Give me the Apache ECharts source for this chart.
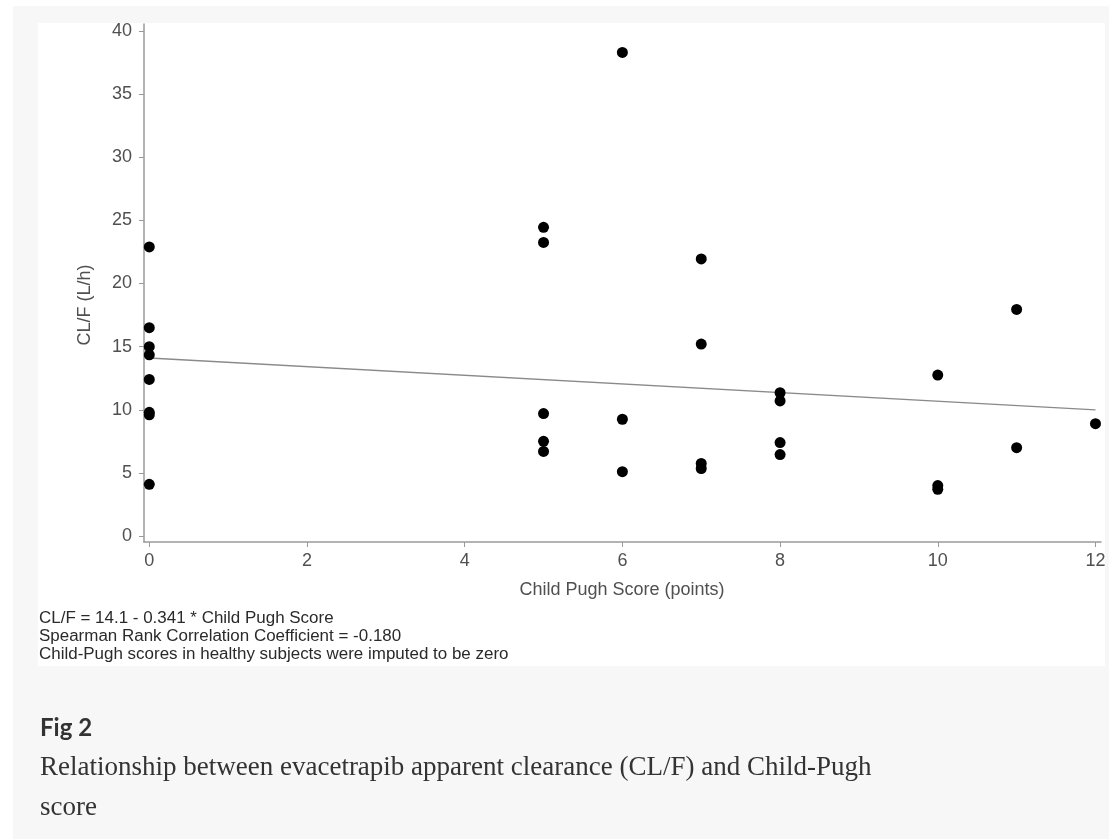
<!DOCTYPE html>
<html>
<head>
<meta charset="utf-8">
<script src="https://cdn.jsdelivr.net/npm/echarts@6/dist/echarts.min.js"></script>
<style>
  html, body { margin: 0; padding: 0; background: #ffffff; }
  #chart { width: 1109px; height: 839px; }
</style>
</head>
<body>
<div id="chart"></div>
<script>
// ---- data ----
const childPughScore = [0, 0, 0, 0, 0, 0, 0, 0,
                        5, 5, 5, 5, 5,
                        6, 6, 6,
                        7, 7, 7, 7,
                        8, 8, 8, 8,
                        10, 10, 10,
                        11, 11,
                        12];
const clearanceCLF = [22.9, 16.5, 15.0, 14.35, 12.4, 9.8, 9.6, 4.1,
                      24.45, 23.25, 9.7, 7.5, 6.7,
                      38.3, 9.25, 5.1,
                      21.95, 15.2, 5.75, 5.35,
                      11.35, 10.7, 7.4, 6.45,
                      12.75, 4.0, 3.7,
                      17.95, 7.0,
                      8.9];
const fitLine = [[0, 14.1], [12, 10.0]];   // CL/F = 14.1 - 0.341 * Child Pugh Score
const xTickValues = [0, 2, 4, 6, 8, 10, 12];
const yTickValues = [0, 5, 10, 15, 20, 25, 30, 35, 40];
const xAxisTitle = 'Child Pugh Score (points)';
const yAxisTitle = 'CL/F (L/h)';
const noteLines = [
  'CL/F = 14.1 - 0.341 * Child Pugh Score',
  'Spearman Rank Correlation Coefficient = -0.180',
  'Child-Pugh scores in healthy subjects were imputed to be zero'
];
const figLabel = 'Fig 2';
const captionLines = [
  'Relationship between evacetrapib apparent clearance (CL/F) and Child-Pugh',
  'score'
];

const points = childPughScore.map((x, i) => [x, clearanceCLF[i]]);

const sans = '"Liberation Sans", Arial, Helvetica, sans-serif';
const tickColor = '#505050';
const axisColor = '#9a9a9a';

const chart = echarts.init(document.getElementById('chart'), null, { renderer: 'canvas' });

chart.setOption({
  backgroundColor: '#ffffff',
  animation: false,
  grid: { left: 144, right: 8, top: 24, bottom: 297, containLabel: false },
  xAxis: {
    type: 'value',
    min: -0.067,
    max: 12.07,
    splitLine: { show: false },
    axisLine: { show: true, onZero: false, lineStyle: { color: axisColor, width: 1.5 } },
    axisTick: { show: true, length: 5, customValues: xTickValues, lineStyle: { color: axisColor, width: 1 } },
    axisLabel: { customValues: xTickValues, margin: 10, color: tickColor, fontSize: 18, fontFamily: sans }
  },
  yAxis: {
    type: 'value',
    min: -0.47,
    max: 40.55,
    splitLine: { show: false },
    axisLine: { show: true, onZero: false, lineStyle: { color: axisColor, width: 1.5 } },
    axisTick: { show: true, length: 5, customValues: yTickValues, lineStyle: { color: axisColor, width: 1 } },
    axisLabel: { customValues: yTickValues, margin: 12, color: tickColor, fontSize: 18, fontFamily: sans }
  },
  graphic: [
    { type: 'rect', z: -100, silent: true, shape: { x: 13, y: 6, width: 1096, height: 833 }, style: { fill: '#f7f7f7' } },
    { type: 'rect', z: -99, silent: true, shape: { x: 38, y: 23, width: 1067, height: 643 }, style: { fill: '#ffffff' } },
    { type: 'text', x: 85, y: 305, rotation: Math.PI / 2,
      style: { text: yAxisTitle, fill: tickColor, font: '18px ' + sans, align: 'center', verticalAlign: 'middle' } },
    { type: 'text', x: 622, y: 590,
      style: { text: xAxisTitle, fill: tickColor, font: '18px ' + sans, align: 'center', verticalAlign: 'middle' } },
    { type: 'text', x: 39, y: 619, scaleX: 1.06,
      style: { text: noteLines[0], fill: '#2a2a2a', font: '16px ' + sans, align: 'left', verticalAlign: 'middle' } },
    { type: 'text', x: 39, y: 637, scaleX: 1.06,
      style: { text: noteLines[1], fill: '#2a2a2a', font: '16px ' + sans, align: 'left', verticalAlign: 'middle' } },
    { type: 'text', x: 39, y: 655, scaleX: 1.06,
      style: { text: noteLines[2], fill: '#2a2a2a', font: '16px ' + sans, align: 'left', verticalAlign: 'middle' } },
    { type: 'text', x: 40, y: 728,
      style: { text: figLabel, fill: '#333333', font: 'bold 24px Lato, "Open Sans", sans-serif', align: 'left', verticalAlign: 'middle' } },
    { type: 'text', x: 40, y: 768,
      style: { text: captionLines[0], fill: '#333333', font: '27px "Liberation Serif", "Times New Roman", serif', align: 'left', verticalAlign: 'middle' } },
    { type: 'text', x: 40, y: 808,
      style: { text: captionLines[1], fill: '#333333', font: '27px "Liberation Serif", "Times New Roman", serif', align: 'left', verticalAlign: 'middle' } }
  ],
  series: [
    {
      type: 'line',
      data: fitLine,
      symbol: 'none',
      lineStyle: { color: '#8a8a8a', width: 1.3 },
      z: 2
    },
    {
      type: 'scatter',
      data: points,
      symbol: 'circle',
      symbolSize: 11,
      itemStyle: { color: '#000000', opacity: 1 },
      z: 3
    }
  ]
});
</script>
</body>
</html>
